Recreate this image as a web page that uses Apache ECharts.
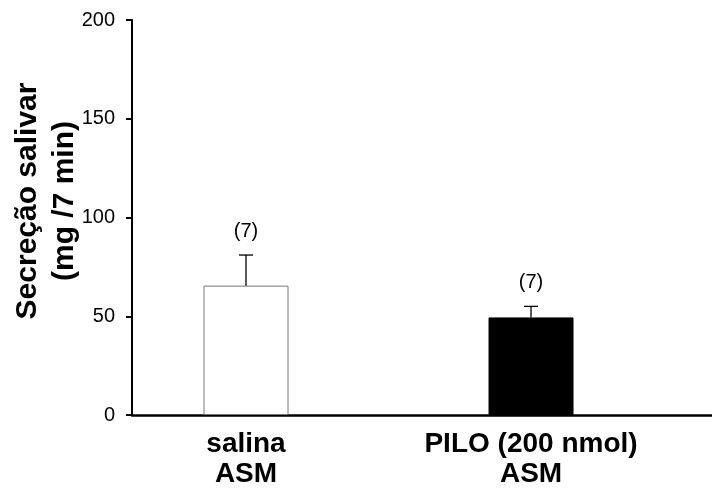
<!DOCTYPE html>
<html>
<head>
<meta charset="utf-8">
<script src="https://cdn.jsdelivr.net/npm/echarts@6/dist/echarts.min.js"></script>
<style>html,body{margin:0;padding:0;background:#fff}#c{width:712px;height:489px}</style>
</head>
<body>
<div id="c"></div>
<script>
var categories = ['salina\nASM', 'PILO (200 nmol)\nASM'];
var positions = [1, 2];
var means = [65.5, 49.4];
var upperErr = [81, 55];
var nLabels = ['(7)', '(7)'];
var yTicks = [0, 50, 100, 150, 200];
var yTitle = 'Secreção salivar\n(mg /7 min)';

var chart = echarts.init(document.getElementById('c'), null, {renderer: 'canvas'});
var font = 'Arial, "Liberation Sans", sans-serif';

var barData = positions.map(function (p, i) {
  return {
    value: [p, means[i]],
    itemStyle: i === 0 ? {color: '#fff', borderColor: '#777', borderWidth: 1} : {color: '#000', borderColor: '#000', borderWidth: 1}
  };
});
var errData = positions.map(function (p, i) { return [p, means[i], upperErr[i], i]; });

chart.setOption({
  animation: false,
  grid: {left: 132, right: 0, top: 20, bottom: 72, containLabel: false},
  xAxis: {
    type: 'value', min: 0.6, max: 2.635,
    splitLine: {show: false},
    axisLine: {show: true, lineStyle: {color: '#000', width: 2.5}},
    axisTick: {show: false},
    axisLabel: {
      customValues: positions,
      formatter: function (v) { var i = positions.indexOf(v); return i >= 0 ? categories[i] : ''; },
      color: '#000', fontFamily: font, fontWeight: 'bold', fontSize: 28, lineHeight: 30, margin: 14
    }
  },
  yAxis: {
    type: 'value', min: 0, max: 200, interval: 50,
    splitLine: {show: false},
    axisLine: {show: true, lineStyle: {color: '#000', width: 2}},
    axisTick: {show: true, length: 6, lineStyle: {color: '#000', width: 2}},
    axisLabel: {
      color: '#000', fontFamily: font, fontSize: 20, margin: 17,
      customValues: yTicks
    }
  },
  graphic: [{
    type: 'text', x: 46, y: 201, rotation: Math.PI / 2,
    style: {text: yTitle, font: 'bold 30px ' + font, fill: '#000', textAlign: 'center', textVerticalAlign: 'middle', lineHeight: 37}
  }],
  series: [{
    type: 'bar', data: barData, barWidth: 85, z: 2
  }, {
    type: 'custom', z: 3,
    data: errData,
    renderItem: function (params, api) {
      var x = api.value(0);
      var base = api.coord([x, api.value(1)]);
      var top = api.coord([x, api.value(2)]);
      var idx = api.value(3);
      var style = {stroke: '#000', lineWidth: 1.3};
      return {type: 'group', children: [
        {type: 'line', shape: {x1: base[0], y1: base[1], x2: top[0], y2: top[1]}, style: style},
        {type: 'line', shape: {x1: top[0] - 7, y1: top[1], x2: top[0] + 7, y2: top[1]}, style: style},
        {type: 'text', x: top[0], y: top[1] - 24, style: {text: nLabels[idx], font: '20px ' + font, fill: '#000', textAlign: 'center', textVerticalAlign: 'middle'}}
      ]};
    }
  }]
});
</script>
</body>
</html>
